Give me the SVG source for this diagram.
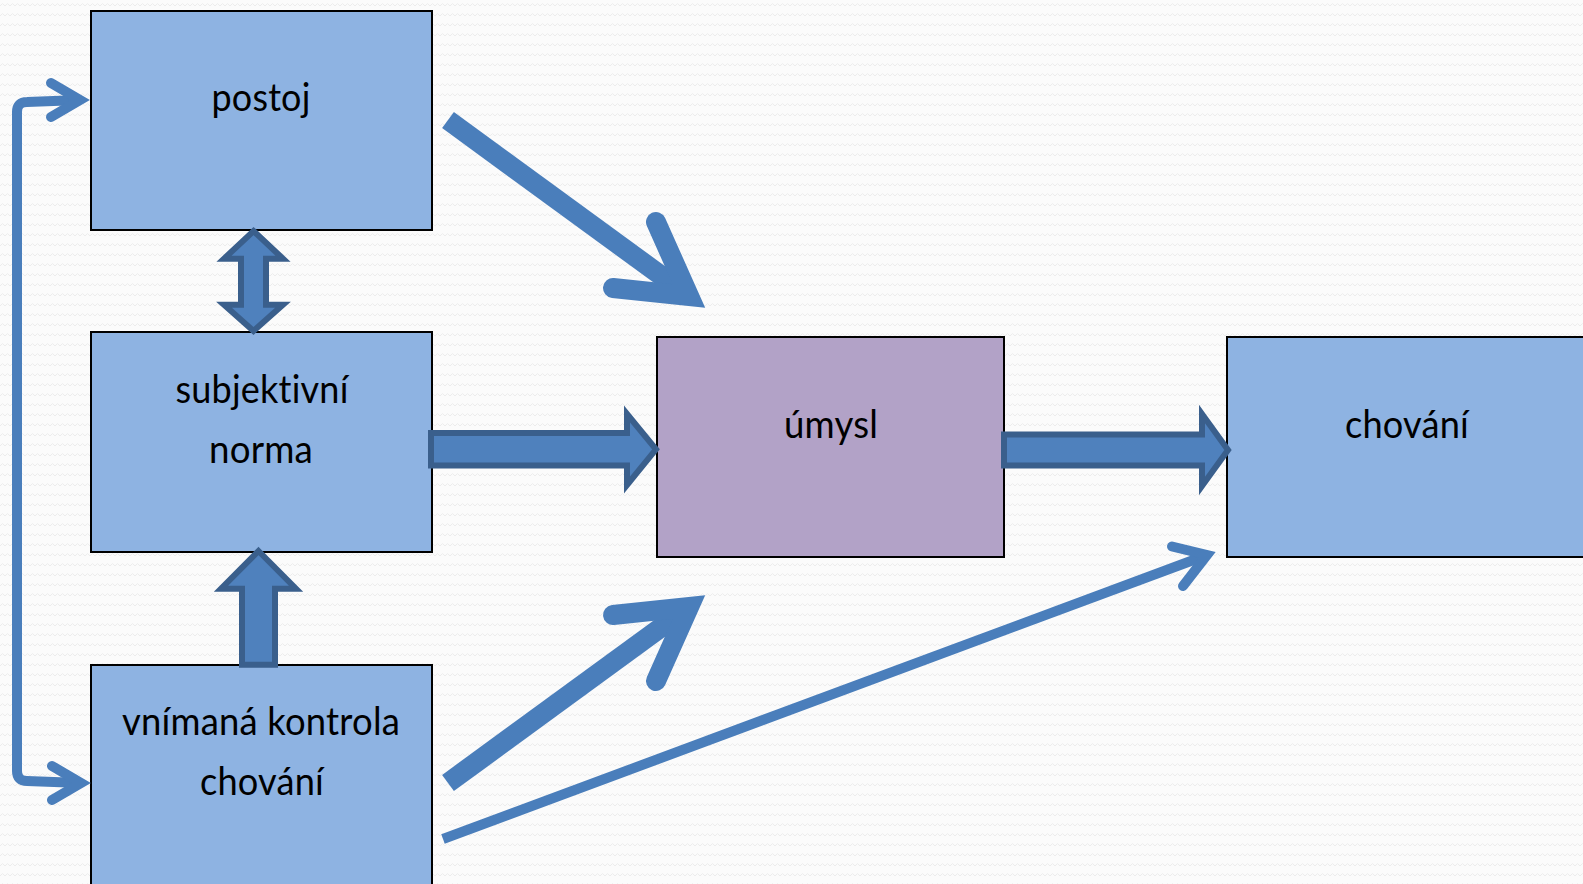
<svg xmlns="http://www.w3.org/2000/svg" width="1583" height="884" viewBox="0 0 1583 884">
  <defs>
    <pattern id="wave" width="10" height="10" patternUnits="userSpaceOnUse">
      <path d="M0,6 L2.5,3.5 L5,6 L7.5,3.5 L10,6" fill="none" stroke="#ececec" stroke-width="1"/>
    </pattern>
    <style>
      .box { fill: #8eb3e2; stroke: #000; stroke-width: 2; }
      .goal { fill: #b2a2c7; stroke: #000; stroke-width: 2; }
      .lbl { font-family: Lato, "Open Sans", "Liberation Sans", sans-serif; font-size: 38px; fill: #000; text-anchor: middle; font-variant-ligatures: none; font-feature-settings: "liga" 0, "clig" 0; letter-spacing: 0.2px; }
      .block { fill: #4f81bd; stroke: #3a5f8c; stroke-width: 6; stroke-linejoin: miter; stroke-miterlimit: 10; }
      .shaft { fill: none; stroke: #4a7ebb; stroke-linecap: butt; }
      .head { fill: none; stroke: #4a7ebb; stroke-linecap: round; stroke-linejoin: miter; stroke-miterlimit: 10; }
    </style>
  </defs>

  <!-- backdrop -->
  <rect x="0" y="0" width="1583" height="884" fill="#fbfbfb"/>
  <rect x="0" y="0" width="1583" height="884" fill="url(#wave)"/>

  <!-- nodes -->
  <g id="postoj">
    <rect class="box" x="91" y="11" width="341" height="219"/>
    <text class="lbl" x="261" y="111" textLength="99" lengthAdjust="spacingAndGlyphs">postoj</text>
  </g>
  <g id="subjektivni-norma">
    <rect class="box" x="91" y="332" width="341" height="220"/>
    <text class="lbl" x="262" y="403" textLength="173" lengthAdjust="spacingAndGlyphs">subjektivní</text>
    <text class="lbl" x="261" y="463" textLength="104" lengthAdjust="spacingAndGlyphs">norma</text>
  </g>
  <g id="vnimana-kontrola">
    <rect class="box" x="91" y="665" width="341" height="240"/>
    <text class="lbl" x="261" y="735" textLength="278" lengthAdjust="spacingAndGlyphs">vnímaná kontrola</text>
    <text class="lbl" x="262" y="795" textLength="124" lengthAdjust="spacingAndGlyphs">chování</text>
  </g>
  <g id="umysl">
    <rect class="goal" x="657" y="337" width="347" height="220"/>
    <text class="lbl" x="831" y="438" textLength="94" lengthAdjust="spacingAndGlyphs">úmysl</text>
  </g>
  <g id="chovani">
    <rect class="box" x="1227" y="337" width="380" height="220"/>
    <text class="lbl" x="1407" y="438" textLength="124" lengthAdjust="spacingAndGlyphs">chování</text>
  </g>

  <!-- connectors -->
  <g id="connectors">
    <!-- block arrows -->
    <path class="block" d="M431,433 H627 V414 L656,449.3 L627,485 V465.5 H431 Z"/>
    <path class="block" d="M1004,434.5 H1202 V414 L1228,450 L1202,486 V465.5 H1004 Z"/>
    <path class="block" d="M253.5,231 L283,258.7 H266 V304.7 H283 L253.5,331 L224,304.7 H241 V258.7 H224 Z"/>
    <path class="block" d="M258.5,551 L296,588.7 H275 V664.7 H242 V588.7 H221 Z"/>

    <!-- postoj to úmysl -->
    <path class="shaft" stroke-width="20" d="M448,120 L689,296"/>
    <path class="head" stroke-width="20" d="M656,222 L689,296 L613,288"/>

    <!-- vnímaná kontrola to úmysl -->
    <path class="shaft" stroke-width="20" d="M448,783 L689,607"/>
    <path class="head" stroke-width="20" d="M656,681 L689,607 L613,615"/>

    <!-- vnímaná kontrola to chování -->
    <path class="shaft" stroke-width="10" d="M443,839 L1207,555"/>
    <path class="head" stroke-width="10" d="M1172,546.5 L1207,555 L1183,586"/>

    <!-- feedback loop between postoj and vnímaná kontrola -->
    <path fill="none" stroke="#4a7ebb" stroke-width="10" stroke-linejoin="round" d="M80,100 L27,102 Q17,102 17,112 L17,771 Q17,781 27,781 L81,783"/>
    <path class="head" stroke-width="10" d="M51,83 L80,100 L51,117"/>
    <path class="head" stroke-width="10" d="M52,766 L81,783 L52,800"/>
  </g>
</svg>
